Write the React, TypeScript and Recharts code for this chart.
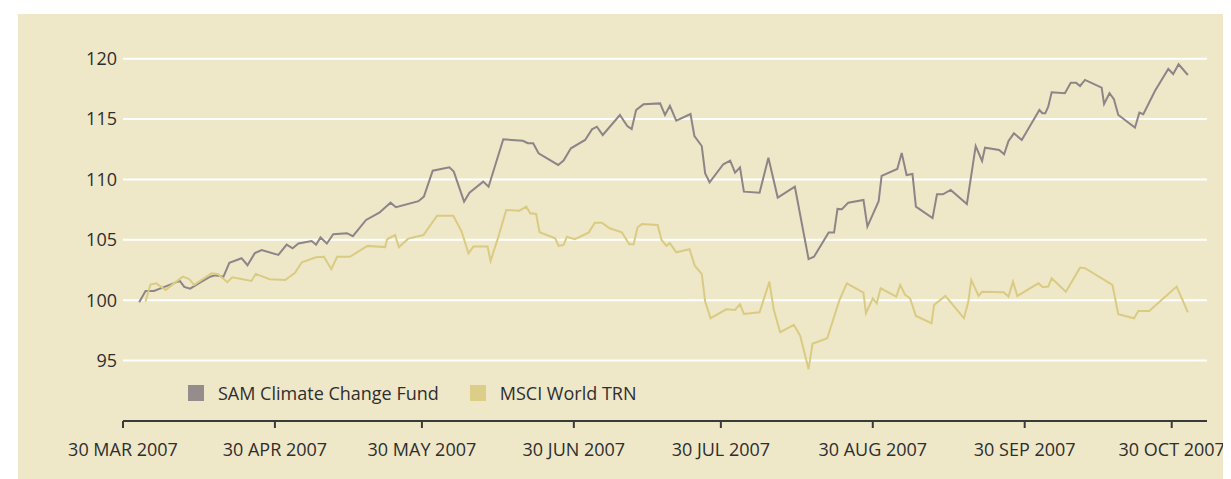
import React from "react";
import { LineChart, Line, XAxis, YAxis, CartesianGrid, Legend } from "recharts";

// x = days since 30 Mar 2007
const samDays = [3.3,4.6,6.3,8.2,11.6,12.5,13.7,15.7,17.8,18.8,20.5,21.7,24.2,25.4,26.9,28.3,31.7,33.4,34.6,35.8,38.5,39.4,40.3,41.6,42.9,45.7,46.9,49.6,52.3,54.6,55.7,60.3,61.4,63.2,66.6,67.5,69.6,70.7,73.5,74.6,77.6,81.6,82.6,83.7,84.8,88.8,89.9,91.4,94.3,95.7,96.7,97.9,101.4,102.9,103.8,104.7,106.2,109.6,110.6,111.6,112.9,115.8,116.6,118.1,118.8,119.7,122.5,123.9,124.9,125.9,126.7,129.9,131.7,133.6,137.1,139.9,141.0,144.0,145.1,145.8,146.7,148.0,151.1,151.9,154.2,154.8,158.0,158.9,159.9,161.1,161.8,165.2,166.1,167.3,168.9,172.2,174.0,175.3,175.9,178.8,179.8,180.7,181.8,183.4,187.0,187.6,188.2,188.8,189.5,192.2,193.4,194.5,195.3,196.3,199.7,200.2,201.3,202.2,203.1,206.5,207.4,208.2,210.6,213.3,214.3,215.4,217.3];
const samValues = [99.83,100.77,100.77,101.07,101.6,101.1,100.96,101.46,101.95,102.07,101.95,103.1,103.48,102.9,103.9,104.16,103.75,104.6,104.3,104.7,104.9,104.6,105.2,104.7,105.46,105.55,105.3,106.65,107.25,108.08,107.7,108.2,108.58,110.73,111.0,110.65,108.16,108.9,109.82,109.4,113.33,113.2,113.0,113.0,112.17,111.2,111.56,112.58,113.27,114.15,114.37,113.68,115.34,114.43,114.18,115.75,116.22,116.3,115.34,116.1,114.87,115.42,113.6,112.77,110.5,109.77,111.26,111.56,110.56,111.0,108.99,108.9,111.8,108.5,109.4,103.4,103.6,105.6,105.6,107.56,107.53,108.08,108.3,106.1,108.2,110.3,110.87,112.2,110.37,110.45,107.75,106.8,108.77,108.77,109.13,107.97,112.77,111.53,112.63,112.44,112.09,113.19,113.82,113.27,115.75,115.48,115.48,116.03,117.22,117.14,118.0,118.0,117.74,118.24,117.6,116.25,117.14,116.64,115.34,114.29,115.53,115.4,117.35,119.15,118.73,119.54,118.65];

const msciDays = [4.6,5.6,6.8,8.7,10.6,12.2,13.5,14.5,18.1,19.4,21.3,22.3,26.2,27.1,29.9,33.1,35.1,36.5,39.4,41.0,42.5,43.7,46.3,49.9,53.5,53.9,55.5,56.3,58.2,61.3,64.1,67.4,69.1,70.5,71.5,74.4,75.0,76.6,78.2,80.9,82.3,83.1,84.3,85.0,88.2,88.9,89.9,90.6,92.2,95.0,96.3,97.7,99.3,101.8,103.3,104.2,105.0,105.9,109.1,109.9,110.9,111.6,112.9,115.6,116.7,118.1,118.8,119.9,123.1,124.9,125.9,126.7,129.9,131.9,132.8,134.1,136.9,138.2,139.9,140.7,143.7,146.2,147.7,151.1,151.6,153.0,153.8,154.6,157.8,158.6,159.6,160.6,161.8,165.0,165.5,167.8,171.6,172.5,173.1,174.6,175.3,179.7,180.7,181.6,182.5,186.8,187.7,188.8,189.5,192.4,195.3,196.3,201.9,203.1,206.3,207.2,209.4,215.0,217.3];
const msciValues = [99.89,101.3,101.4,100.85,101.46,101.95,101.76,101.27,102.24,102.15,101.49,101.9,101.6,102.18,101.74,101.68,102.28,103.14,103.56,103.6,102.57,103.6,103.6,104.5,104.4,105.05,105.4,104.4,105.1,105.4,107.0,107.0,105.68,103.89,104.44,104.44,103.25,105.26,107.47,107.42,107.75,107.2,107.14,105.63,105.13,104.5,104.58,105.26,105.05,105.6,106.42,106.42,105.96,105.63,104.64,104.64,106.04,106.32,106.23,104.99,104.5,104.72,103.97,104.22,102.84,102.18,99.89,98.51,99.25,99.2,99.67,98.87,99.0,101.54,99.2,97.35,97.96,97.04,94.29,96.4,96.85,100.02,101.4,100.63,98.92,100.16,99.75,100.99,100.3,101.27,100.44,100.16,98.7,98.1,99.61,100.36,98.51,99.89,101.68,100.36,100.71,100.66,100.3,101.54,100.36,101.4,101.08,101.13,101.82,100.71,102.7,102.65,101.27,98.84,98.51,99.11,99.11,101.13,99.0];

const tickDays = [0, 31, 61, 92, 122, 153, 184, 214];
const tickLabels = ["30 MAR 2007","30 APR 2007","30 MAY 2007","30 JUN 2007","30 JUL 2007","30 AUG 2007","30 SEP 2007","30 OCT 2007"];
const yTicks = [95, 100, 105, 110, 115, 120];

const seriesNames = ["SAM Climate Change Fund", "MSCI World TRN"];
const samColor = "#8D8587";
const msciColor = "#DACB82";
const legendColors = ["#958C8C", "#DCCD87"];

const samData = samDays.map((d, i) => ({ d, v: samValues[i] }));
const msciData = msciDays.map((d, i) => ({ d, v: msciValues[i] }));

const FONT = "'Open Sans', sans-serif";
const TEXT = "#2E2E2E";
const FS = 18;

const LegendContent = () => (
  <div style={{ display: "flex", alignItems: "center", fontFamily: FONT, fontSize: FS, color: TEXT, whiteSpace: "nowrap" }}>
    {seriesNames.map((n, i) => (
      <div key={n} style={{ display: "flex", alignItems: "center", marginRight: 31 }}>
        <div style={{ width: 16, height: 16, background: legendColors[i], marginRight: 14 }} />
        <span>{n}</span>
      </div>
    ))}
  </div>
);

export default function App() {
  return (
    <div style={{ marginLeft: 10, marginTop: 6, width: 1213, height: 465, background: "#EEE7C8" }}>
      <LineChart
        width={1213}
        height={465}
        margin={{ top: 44.7, right: 24, bottom: 0, left: 0 }}
        style={{ fontFamily: FONT }}
      >
        <CartesianGrid horizontal vertical={false} stroke="#FFFFFF" strokeWidth={2} />
        <XAxis
          type="number"
          dataKey="d"
          domain={[0, 221.2]}
          ticks={tickDays}
          interval={0}
          tickFormatter={(v) => tickLabels[tickDays.indexOf(v)] ?? ""}
          height={58}
          axisLine={{ stroke: "#3A3A3A", strokeWidth: 2 }}
          tickLine={{ stroke: "#3A3A3A", strokeWidth: 2 }}
          tickSize={7}
          tickMargin={15}
          tick={{ fill: TEXT, fontSize: FS, fontFamily: FONT }}
          allowDataOverflow
        />
        <YAxis
          type="number"
          domain={[90, 120]}
          ticks={yTicks}
          width={105}
          axisLine={false}
          tickLine={false}
          tickSize={4}
          tickMargin={2}
          tick={{ fill: TEXT, fontSize: FS, fontFamily: FONT }}
          allowDataOverflow
        />
        <Legend
          layout="horizontal"
          verticalAlign="middle"
          align="center"
          content={<LegendContent />}
          wrapperStyle={{ left: 170, top: 367, width: "auto" }}
        />
        <Line data={samData} dataKey="v" name={seriesNames[0]} stroke={samColor} strokeWidth={2} dot={false} isAnimationActive={false} />
        <Line data={msciData} dataKey="v" name={seriesNames[1]} stroke={msciColor} strokeWidth={2} dot={false} isAnimationActive={false} />
      </LineChart>
    </div>
  );
}
